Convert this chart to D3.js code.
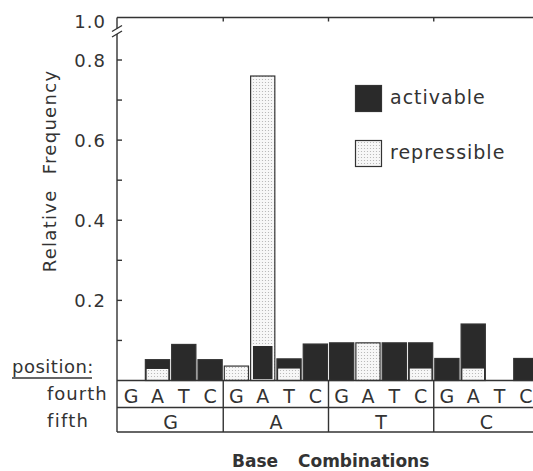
<!DOCTYPE html>
<html>
<head>
<meta charset="utf-8">
<script src="https://cdn.jsdelivr.net/npm/d3@7"></script>
<style>
  body { margin: 0; background: #fff; }
  svg { display: block; font-family: "DejaVu Sans", sans-serif; }
  .lbl { fill: #333; }
</style>
</head>
<body>
<div id="chart"></div>
<script>
// base at the fifth position (outer groups) and at the fourth position (bars)
const fifthBases = ['G', 'A', 'T', 'C'];
const fourthBases = ['G', 'A', 'T', 'C'];

// relative frequency, ordered fifth G (G A T C), fifth A (...), fifth T, fifth C
const activable = [0, 0.052, 0.090, 0.052, 0, 0.092, 0.054, 0.091, 0.094, 0, 0.094, 0.094, 0.055, 0.141, 0, 0.055];
const repressible = [0, 0.032, 0, 0, 0.036, 0.760, 0.033, 0, 0, 0.094, 0, 0.033, 0, 0.033, 0, 0];

const yTicks = [0.2, 0.4, 0.6, 0.8];
const yMinorTicks = [0.1, 0.3, 0.5, 0.7];

class BaseChart {
  constructor(_config) {
    this.config = {
      parentElement: _config.parentElement,
      containerWidth: 533,
      containerHeight: 471,
      axisX: 117,
      topY: 17.5,
      baseY: 380.5,
      tableRight: 539,
      rowMid: 407.5,
      rowBottom: 432
    };
    this.initVis();
  }

  initVis() {
    let vis = this;
    const c = vis.config;

    vis.svg = d3.select(c.parentElement).append('svg')
      .attr('width', c.containerWidth)
      .attr('height', c.containerHeight);

    const defs = vis.svg.append('defs');
    const pat = defs.append('pattern')
      .attr('id', 'dots')
      .attr('width', 3).attr('height', 3)
      .attr('patternUnits', 'userSpaceOnUse');
    pat.append('rect').attr('width', 3).attr('height', 3).attr('fill', '#f7f7f7');
    pat.append('circle').attr('cx', 1.5).attr('cy', 1.5).attr('r', 0.6).attr('fill', '#b0b0b0');

    // linear part of the axis: 0..0.8, value 1.0 sits above the break
    vis.yScale = d3.scaleLinear().domain([0, 0.8]).range([c.baseY, 60]);

    vis.xGroup = d3.scaleBand().domain(fifthBases).range([c.axisX + 1, c.tableRight]);
    vis.xSub = d3.scaleBand().domain(fourthBases)
      .range([0, vis.xGroup.bandwidth()])
      .paddingInner(0.08).paddingOuter(0.04);

    vis.data = [];
    fifthBases.forEach((f, i) => {
      fourthBases.forEach((b, j) => {
        const k = i * 4 + j;
        vis.data.push({ fifth: f, fourth: b, act: activable[k], rep: repressible[k] });
      });
    });

    vis.renderVis();
  }

  renderVis() {
    let vis = this;
    const c = vis.config;
    const ink = '#333';

    const bars = vis.svg.append('g');
    vis.data.forEach(d => {
      const x = vis.xGroup(d.fifth) + vis.xSub(d.fourth);
      const w = vis.xSub.bandwidth();
      const layers = [
        { v: d.act, fill: '#2a2a2a' },
        { v: d.rep, fill: 'url(#dots)' }
      ].filter(l => l.v > 0).sort((a, b) => b.v - a.v);

      layers.forEach((l, i) => {
        const inset = i === 0 ? 0 : 1.8;
        const yTop = vis.yScale(l.v) + inset;
        bars.append('rect')
          .attr('x', x + inset)
          .attr('y', yTop)
          .attr('width', w - 2 * inset)
          .attr('height', c.baseY - yTop - (i === 0 ? 0 : 0.8))
          .attr('fill', l.fill)
          .attr('stroke', i === 0 ? ink : '#fff')
          .attr('stroke-width', i === 0 ? 1.2 : 1);
      });
    });

    // frame: y axis with break, top line, base line
    const lines = vis.svg.append('g').attr('stroke', ink).attr('stroke-width', 1.4).attr('fill', 'none');
    lines.append('path').attr('d', `M${c.axisX},${c.topY}V28.5M${c.axisX},34V${c.rowBottom}`);
    lines.append('path').attr('d', `M${c.axisX - 5},31.5L${c.axisX + 5},25.5M${c.axisX - 5},37L${c.axisX + 5},31`);
    lines.append('line')
      .attr('x1', c.axisX).attr('x2', c.containerWidth)
      .attr('y1', c.topY).attr('y2', c.topY);
    lines.append('line')
      .attr('x1', c.axisX).attr('x2', c.containerWidth)
      .attr('y1', c.baseY).attr('y2', c.baseY);
    lines.append('line')
      .attr('x1', c.axisX).attr('x2', c.containerWidth)
      .attr('y1', c.rowMid).attr('y2', c.rowMid);
    lines.append('line')
      .attr('x1', c.axisX).attr('x2', c.containerWidth)
      .attr('y1', c.rowBottom).attr('y2', c.rowBottom);

    // group separators in the table and small ticks on the top line
    fifthBases.slice(1).forEach(f => {
      const gx = vis.xGroup(f);
      lines.append('line').attr('x1', gx).attr('x2', gx).attr('y1', c.baseY).attr('y2', c.rowBottom);
      lines.append('line').attr('x1', gx).attr('x2', gx).attr('y1', c.topY).attr('y2', c.topY + 4);
    });

    // y ticks pointing inward
    yTicks.concat(yMinorTicks).forEach(t => {
      lines.append('line')
        .attr('x1', c.axisX).attr('x2', c.axisX + 5)
        .attr('y1', vis.yScale(t)).attr('y2', vis.yScale(t));
    });

    const txt = vis.svg.append('g').attr('class', 'lbl');
    yTicks.forEach(t => {
      txt.append('text')
        .attr('x', 106).attr('y', vis.yScale(t) + 6.5)
        .attr('text-anchor', 'end')
        .attr('font-size', 18).attr('letter-spacing', 1)
        .text(d3.format('.1f')(t));
    });
    txt.append('text')
      .attr('x', 106).attr('y', c.topY + 10.5)
      .attr('text-anchor', 'end')
      .attr('font-size', 18).attr('letter-spacing', 1)
      .text('1.0');

    txt.append('text')
      .attr('transform', 'translate(56,171) rotate(-90)')
      .attr('text-anchor', 'middle')
      .attr('font-size', 18).attr('letter-spacing', 1.3).attr('word-spacing', 8)
      .text('Relative Frequency');

    // table letters
    vis.data.forEach(d => {
      txt.append('text')
        .attr('x', vis.xGroup(d.fifth) + vis.xSub(d.fourth) + vis.xSub.bandwidth() / 2)
        .attr('y', 403)
        .attr('text-anchor', 'middle')
        .attr('font-size', 19)
        .text(d.fourth);
    });
    fifthBases.forEach(f => {
      txt.append('text')
        .attr('x', vis.xGroup(f) + vis.xGroup.bandwidth() / 2)
        .attr('y', 429)
        .attr('text-anchor', 'middle')
        .attr('font-size', 19)
        .text(f);
    });

    txt.append('text').attr('x', 12).attr('y', 373)
      .attr('font-size', 18).attr('letter-spacing', 0.5).text('position:');
    vis.svg.append('line')
      .attr('x1', 12).attr('x2', 92).attr('y1', 378).attr('y2', 378)
      .attr('stroke', ink).attr('stroke-width', 1.6);
    txt.append('text').attr('x', 47).attr('y', 400)
      .attr('font-size', 18).attr('letter-spacing', 1).text('fourth');
    txt.append('text').attr('x', 47).attr('y', 427)
      .attr('font-size', 18).attr('letter-spacing', 1.3).text('fifth');

    txt.append('text').attr('x', 232).attr('y', 467)
      .attr('font-size', 17).attr('font-weight', 'bold').attr('word-spacing', 14)
      .text('Base Combinations');

    // legend
    const legend = vis.svg.append('g');
    const items = [
      { label: 'activable', fill: '#2a2a2a', y: 85 },
      { label: 'repressible', fill: 'url(#dots)', y: 140 }
    ];
    items.forEach(it => {
      legend.append('rect')
        .attr('x', 355.5).attr('y', it.y + 0.5)
        .attr('width', 26).attr('height', 26)
        .attr('fill', it.fill).attr('stroke', ink).attr('stroke-width', 1.2);
      legend.append('text')
        .attr('class', 'lbl')
        .attr('x', 390).attr('y', it.y + 19)
        .attr('font-size', 19).attr('letter-spacing', 1)
        .text(it.label);
    });
  }
}

new BaseChart({ parentElement: '#chart' });
</script>
</body>
</html>
